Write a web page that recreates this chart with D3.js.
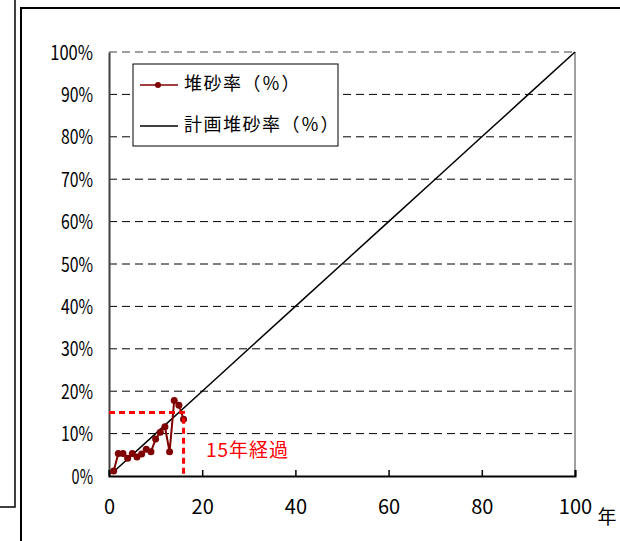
<!DOCTYPE html>
<html>
<head>
<meta charset="utf-8">
<script src="https://cdn.jsdelivr.net/npm/d3@7"></script>
<style>
  html, body { margin: 0; padding: 0; background: #fff; }
  svg { display: block; }
  text { font-family: "Noto Sans CJK JP", "Noto Sans", sans-serif; }
</style>
</head>
<body>
<svg id="chart" width="620" height="541"></svg>
<script>
// Sediment accumulation: measured yearly values vs. the planned rate
const years = [1, 2, 3, 4, 5, 6, 7, 8, 9, 10, 11, 12, 13, 14, 15, 16];
const sedimentRate = [1.2, 5.3, 5.3, 4.2, 5.3, 4.5, 5.2, 6.3, 5.7, 8.7, 10.3, 11.6, 5.7, 17.8, 16.7, 13.4];
const planYears = [1, 10, 20, 30, 40, 50, 60, 70, 80, 90, 100];
const planRate = [1, 10, 20, 30, 40, 50, 60, 70, 80, 90, 100];
const xTicks = [0, 20, 40, 60, 80, 100];
const yTicks = [0, 10, 20, 30, 40, 50, 60, 70, 80, 90, 100];
const markerYear = 16;
const markerRate = 15;
const seriesNames = ["堆砂率（％）", "計画堆砂率（％）"];
const markerLabel = "15年経過";
const xUnit = "年";

const svg = d3.select("#chart");

const x = d3.scaleLinear().domain([0, 100]).range([109, 575]);
const y = d3.scaleLinear().domain([0, 100]).range([476, 52]);

// Page frames
svg.append("path")
  .attr("d", "M15,0 V507 H0")
  .attr("fill", "none").attr("stroke", "#000").attr("stroke-width", 1.5);
svg.append("path")
  .attr("d", "M21,541 V8 H620")
  .attr("fill", "none").attr("stroke", "#000").attr("stroke-width", 2);

// Horizontal gridlines
svg.append("g")
  .selectAll("line")
  .data(yTicks.filter(d => d > 0))
  .join("line")
  .attr("x1", x(0)).attr("x2", x(100))
  .attr("y1", d => y(d)).attr("y2", d => y(d))
  .attr("stroke", d => d === 100 ? "#808080" : "#000")
  .attr("stroke-width", d => d === 100 ? 1.5 : 1)
  .attr("stroke-dasharray", "8,5");

// Right border of plot area
svg.append("line")
  .attr("x1", x(100)).attr("x2", x(100))
  .attr("y1", y(100)).attr("y2", y(0))
  .attr("stroke", "#808080").attr("stroke-width", 1.5);

// Y axis
const yAxis = svg.append("g")
  .attr("transform", `translate(${x(0)},0)`)
  .call(d3.axisLeft(y).tickValues(yTicks).tickSize(0).tickPadding(16).tickFormat(d => d + "%"));
yAxis.select(".domain").attr("stroke", "#404040").attr("stroke-width", 2);
yAxis.selectAll("text")
  .attr("font-size", 20)
  .attr("fill", "#000")
  .attr("dy", "0.35em")
  .attr("textLength", d => (d + "%").length * 10.7)
  .attr("lengthAdjust", "spacingAndGlyphs");

// X axis with inward ticks
const xAxis = svg.append("g")
  .attr("transform", `translate(0,${y(0)})`)
  .call(d3.axisBottom(x).tickValues(xTicks).tickSize(-6).tickPadding(24).tickFormat(d => d));
xAxis.select(".domain").attr("stroke", "#000").attr("stroke-width", 2);
xAxis.selectAll(".tick line").attr("stroke", "#000").attr("stroke-width", 1.5);
xAxis.selectAll("text")
  .attr("font-size", 20)
  .attr("fill", "#000")
  .attr("dy", "0.35em")
  .attr("y", 31);

svg.append("text")
  .attr("x", x(100) + 32).attr("y", 519)
  .attr("font-size", 19).attr("text-anchor", "middle").attr("dominant-baseline", "middle")
  .text(xUnit);

// Planned line
const line = d3.line().x(d => x(d[0])).y(d => y(d[1]));
svg.append("path")
  .datum(planYears.map((d, i) => [d, planRate[i]]))
  .attr("d", line)
  .attr("fill", "none").attr("stroke", "#000").attr("stroke-width", 1.5);

// Measured series
const measured = years.map((d, i) => [d, sedimentRate[i]]);
svg.append("path")
  .datum(measured)
  .attr("d", line)
  .attr("fill", "none").attr("stroke", "#800000").attr("stroke-width", 2);
svg.append("g")
  .selectAll("circle")
  .data(measured)
  .join("circle")
  .attr("cx", d => x(d[0])).attr("cy", d => y(d[1]))
  .attr("r", 3.5).attr("fill", "#800000");

// 15-year reference lines
svg.append("path")
  .attr("d", `M${x(0)},${y(markerRate)} H${x(markerYear)} V${y(0)}`)
  .attr("fill", "none").attr("stroke", "#ff0000").attr("stroke-width", 3)
  .attr("stroke-dasharray", "6,4");
svg.append("text")
  .attr("x", 206).attr("y", 452)
  .attr("font-size", 19).attr("fill", "#ff0000").attr("dominant-baseline", "middle")
  .attr("letter-spacing", 1)
  .text(markerLabel);

// Legend
const legend = svg.append("g");
legend.append("rect")
  .attr("x", 133).attr("y", 64).attr("width", 205).attr("height", 82)
  .attr("fill", "#fff").attr("stroke", "#000").attr("stroke-width", 1);
const legendRows = [
  { name: seriesNames[0], color: "#800000", marker: true, yPos: 85 },
  { name: seriesNames[1], color: "#000", marker: false, yPos: 126 }
];
legendRows.forEach(r => {
  legend.append("line")
    .attr("x1", 140).attr("x2", 178).attr("y1", r.yPos).attr("y2", r.yPos)
    .attr("stroke", r.color).attr("stroke-width", 1.5);
  if (r.marker) {
    legend.append("circle").attr("cx", 158).attr("cy", r.yPos).attr("r", 3).attr("fill", r.color);
  }
  legend.append("text")
    .attr("x", 184).attr("y", r.yPos)
    .attr("font-size", 18).attr("fill", "#000").attr("dominant-baseline", "middle")
    .attr("letter-spacing", 1.5)
    .text(r.name);
});
</script>
</body>
</html>
